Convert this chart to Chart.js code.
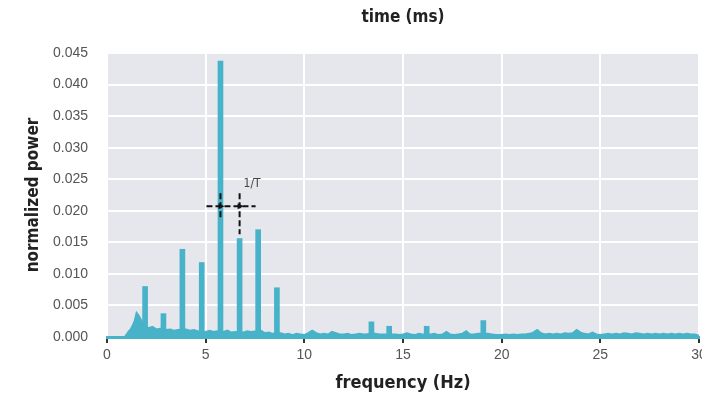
<!DOCTYPE html>
<html>
<head>
<meta charset="utf-8">
<script src="https://cdn.jsdelivr.net/npm/chart.js@4.4.1/dist/chart.umd.min.js"></script>
<style>
  html, body { margin: 0; padding: 0; background: #fff; }
  #wrap { width: 702px; height: 399px; }
</style>
</head>
<body>
<div id="wrap"><canvas id="spec" width="702" height="399"></canvas></div>
<script>
// broadband floor of the spectrum (Hz, normalized power)
var freqHz = [0, 0.9, 1.0, 1.1, 1.2, 1.3, 1.4, 1.5, 1.6, 1.7, 1.8, 2.1, 2.3, 2.5, 2.7, 3.0, 3.2, 3.4, 3.6,
  4.0, 4.2, 4.4, 4.6, 5.0, 5.2, 5.4, 5.6, 5.9, 6.1, 6.3, 6.5, 6.9, 7.1, 7.3, 7.8, 8.0, 8.2, 8.4, 8.8,
  9.0, 9.2, 9.4, 9.6, 9.8, 10.0, 10.2, 10.4, 10.6, 10.8, 11.0, 11.2, 11.4, 11.6, 11.8, 12.0, 12.2, 12.4,
  12.6, 12.8, 13.0, 13.6, 13.8, 14.0, 14.6, 14.8, 15.0, 15.2, 15.4, 15.6, 15.8, 16.0, 16.4, 16.6, 16.8,
  17.0, 17.2, 17.4, 17.6, 17.8, 18.0, 18.2, 18.4, 18.6, 18.8, 19.3, 19.5, 19.7, 20.0, 20.2, 20.4, 20.6,
  20.8, 21.0, 21.2, 21.4, 21.6, 21.8, 22.0, 22.2, 22.4, 22.6, 22.8, 23.0, 23.2, 23.4, 23.6, 23.8, 24.0,
  24.2, 24.4, 24.6, 24.8, 25.0, 25.2, 25.4, 25.6, 25.8, 26.0, 26.2, 26.4, 26.6, 26.8, 27.0, 27.2, 27.4,
  27.6, 27.8, 28.0, 28.2, 28.4, 28.6, 28.8, 29.0, 29.2, 29.4, 29.6, 29.8, 30.0];
var floorPower = [0, 0, 0.0004, 0.0009, 0.0012, 0.0018, 0.0025, 0.0038, 0.0034, 0.0028, 0.0022, 0.0014, 0.0016, 0.0012, 0.0013, 0.0011, 0.0012, 0.0010, 0.0011,
  0.0012, 0.0010, 0.0011, 0.0009, 0.0008, 0.0010, 0.0008, 0.0009, 0.0008, 0.0010, 0.0007, 0.0008, 0.0007, 0.0009, 0.0008, 0.0010, 0.0006, 0.0007, 0.0005, 0.0006,
  0.0004, 0.0005, 0.0003, 0.0005, 0.0004, 0.0003, 0.0006, 0.0010, 0.0006, 0.0004, 0.0005, 0.0004, 0.0008, 0.0006, 0.0004, 0.0004, 0.0005, 0.0003,
  0.0004, 0.0005, 0.0004, 0.0005, 0.0004, 0.0004, 0.0004, 0.0003, 0.0004, 0.0006, 0.0004, 0.0003, 0.0005, 0.0004, 0.0004, 0.0005, 0.0003,
  0.0004, 0.0008, 0.0004, 0.0003, 0.0004, 0.0005, 0.0009, 0.0004, 0.0004, 0.0005, 0.0005, 0.0004, 0.0003, 0.0003, 0.0004, 0.0003, 0.0004,
  0.0003, 0.0004, 0.0004, 0.0005, 0.0007, 0.0011, 0.0006, 0.0004, 0.0005, 0.0004, 0.0005, 0.0004, 0.0006, 0.0005, 0.0006, 0.0011, 0.0007,
  0.0005, 0.0004, 0.0007, 0.0004, 0.0003, 0.0004, 0.0005, 0.0004, 0.0005, 0.0004, 0.0006, 0.0005, 0.0004, 0.0006, 0.0005, 0.0004, 0.0005,
  0.0004, 0.0005, 0.0004, 0.0005, 0.0004, 0.0005, 0.0004, 0.0005, 0.0004, 0.0005, 0.0004, 0.0004, 0.0002];

// narrow spectral peaks
var peakHz = [1.93, 2.86, 3.82, 4.80, 5.75, 6.72, 7.66, 8.61, 13.4, 14.3, 16.2, 19.07];
var peakPower = [0.0080, 0.0037, 0.0139, 0.0118, 0.0437, 0.0156, 0.0170, 0.0078, 0.0024, 0.0017, 0.0017, 0.0026];

var xTicks = [0, 5, 10, 15, 20, 25, 30];
var yTicks = [0, 0.005, 0.01, 0.015, 0.02, 0.025, 0.03, 0.035, 0.04, 0.045];

// 1/T marker: crosshair between the two main peaks
var markHz = [5.75, 6.72];
var markLevel = 0.0207;

var teal = '#48b2c8';
var narrow = "'Liberation Sans Narrow', 'DejaVu Sans Condensed', 'Liberation Sans', sans-serif";

var floorPts = freqHz.map(function (f, i) { return { x: f, y: floorPower[i] }; });
var peakPts = peakHz.map(function (f, i) { return { x: f, y: peakPower[i] }; });

var panelBg = {
  id: 'panelBg',
  beforeDraw: function (chart) {
    var a = chart.chartArea, ctx = chart.ctx;
    ctx.save();
    ctx.fillStyle = '#e5e7ed';
    ctx.fillRect(a.left, a.top, a.right - a.left, a.bottom - a.top);
    ctx.restore();
  }
};

var extras = {
  id: 'extras',
  afterDraw: function (chart) {
    var ctx = chart.ctx, xs = chart.scales.x, ys = chart.scales.y, a = chart.chartArea;
    ctx.save();
    // top title
    ctx.fillStyle = '#222';
    ctx.font = 'bold 17px ' + narrow;
    ctx.textAlign = 'center';
    ctx.textBaseline = 'middle';
    ctx.fillText('time (ms)', (a.left + a.right) / 2, 18);

    // dashed crosshair
    var yl = ys.getPixelForValue(markLevel);
    var x0 = xs.getPixelForValue(markHz[0]);
    var x1 = xs.getPixelForValue(markHz[1]);
    ctx.strokeStyle = '#111';
    ctx.lineWidth = 2;
    ctx.setLineDash([6, 3]);
    ctx.beginPath();
    ctx.moveTo(x0 - 14, yl); ctx.lineTo(x1 + 16, yl);
    ctx.moveTo(x0, yl - 13); ctx.lineTo(x0, yl + 13);
    ctx.moveTo(x1, yl - 13); ctx.lineTo(x1, yl + 28);
    ctx.stroke();
    ctx.setLineDash([]);
    ctx.fillStyle = '#111';
    [x0, x1].forEach(function (px) {
      ctx.beginPath();
      ctx.moveTo(px + 4, yl);
      ctx.lineTo(px - 2, yl - 3);
      ctx.lineTo(px - 2, yl + 3);
      ctx.closePath();
      ctx.fill();
    });
    ctx.fillStyle = '#444';
    ctx.font = '12px ' + narrow;
    ctx.textAlign = 'left';
    ctx.textBaseline = 'middle';
    ctx.fillText('1/T', x1 + 4, yl - 22);
    ctx.restore();
  }
};

var ctx = document.getElementById('spec').getContext('2d');
var chart = new Chart(ctx, {
  type: 'bar',
  data: {
    datasets: [
      {
        type: 'line',
        data: floorPts,
        borderColor: teal,
        backgroundColor: teal,
        borderWidth: 2,
        pointRadius: 0,
        tension: 0,
        fill: 'origin'
      },
      {
        type: 'bar',
        data: peakPts,
        backgroundColor: teal,
        borderWidth: 0,
        barThickness: 5,
        grouped: false
      }
    ]
  },
  options: {
    responsive: false,
    animation: false,
    layout: { padding: { top: 53, right: 3, left: 0, bottom: 0 } },
    plugins: {
      legend: { display: false },
      tooltip: { enabled: false },
      title: { display: false }
    },
    scales: {
      x: {
        type: 'linear',
        min: 0,
        max: 30,
        offset: false,
        afterBuildTicks: function (s) { s.ticks = xTicks.map(function (v) { return { value: v }; }); },
        afterFit: function (s) { s.height = 62; s.paddingRight = 0; s.paddingLeft = 0; },
        grid: {
          color: '#ffffff',
          lineWidth: 2,
          offset: false,
          drawTicks: true,
          tickLength: 6,
          tickWidth: 2,
          tickColor: '#333'
        },
        border: { display: true, color: teal, width: 3 },
        ticks: {
          color: '#555',
          font: { size: 14, family: "'Liberation Sans', sans-serif" },
          padding: 4,
          maxRotation: 0
        },
        title: {
          display: true,
          text: 'frequency (Hz)',
          color: '#222',
          font: { size: 18, weight: 'bold', family: narrow },
          padding: { top: 0, bottom: 5 }
        }
      },
      y: {
        min: 0,
        max: 0.045,
        afterBuildTicks: function (s) { s.ticks = yTicks.map(function (v) { return { value: v }; }); },
        afterFit: function (s) { s.width = 107; },
        grid: { color: '#ffffff', lineWidth: 2, drawTicks: false },
        border: { display: false },
        ticks: {
          color: '#555',
          font: { size: 14, family: "'Liberation Sans', sans-serif" },
          padding: 19,
          callback: function (v) { return v.toFixed(3); }
        },
        title: {
          display: true,
          text: 'normalized power',
          color: '#222',
          font: { size: 17, weight: 'bold', family: narrow },
          padding: { top: 23, bottom: 0 }
        }
      }
    }
  },
  plugins: [panelBg, extras]
});
</script>
</body>
</html>
